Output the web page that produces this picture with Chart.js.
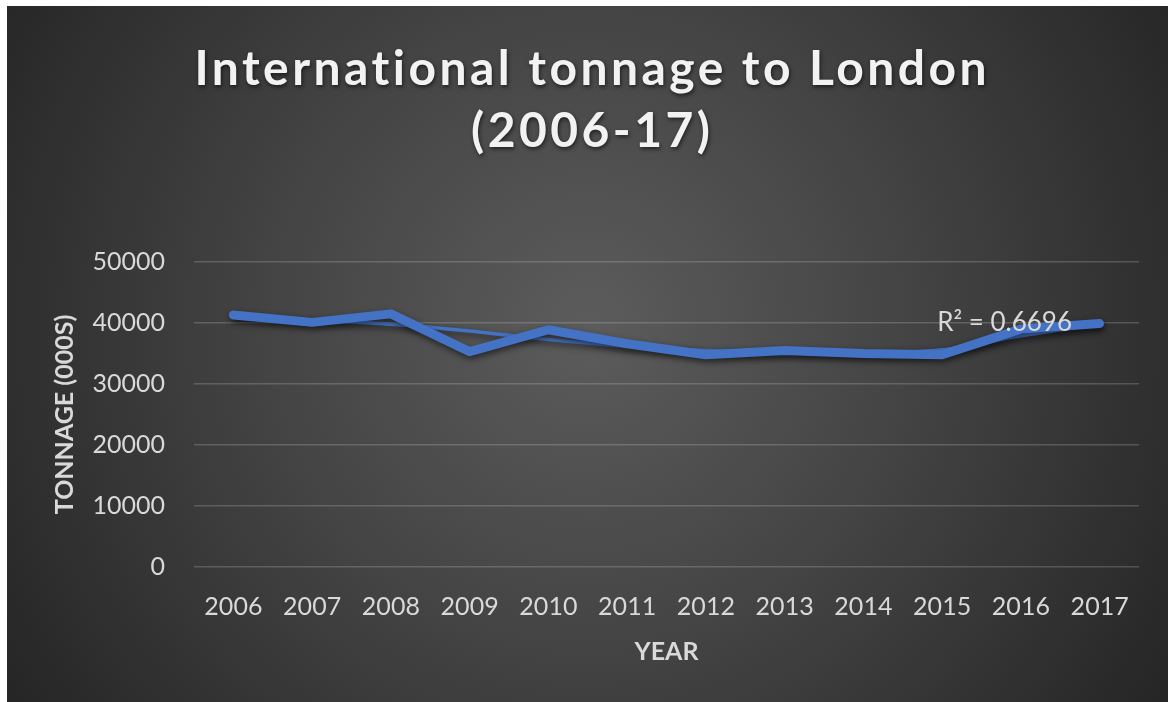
<!DOCTYPE html>
<html><head><meta charset="utf-8">
<script src="https://cdn.jsdelivr.net/npm/chart.js@4/dist/chart.umd.min.js"></script>
<style>
html,body{margin:0;padding:0;background:#fff;}
#wrap{position:absolute;left:7px;top:6px;width:1161px;height:696px;}
</style></head><body>
<div id="wrap"><canvas id="c" width="1161" height="696"></canvas></div>
<script>
const years = ['2006','2007','2008','2009','2010','2011','2012','2013','2014','2015','2016','2017'];
const tonnage = [41300, 40100, 41500, 35300, 38900, 36600, 34800, 35500, 35000, 34800, 39000, 39900];
const trendValues = [41200, 40500, 39800, 38700, 37300, 36200, 35500, 35200, 35100, 35600, 37900, 39800];
const yMin = 0, yMax = 50000, yStep = 10000;
const titleLines = ['International tonnage to London', '(2006-17)'];
const yTitle = 'TONNAGE (000S)';
const xTitle = 'YEAR';
const r2Label = 'R\u00B2 = 0.6696';

const FONT = 'Lato, "Open Sans", sans-serif';
const LIGHT = '#d9d9d9';
const BLUE = '#4472C4';

const decor = {
  id: 'decor',
  beforeDraw(chart) {
    const {ctx, width, height} = chart;
    ctx.save();
    const g = ctx.createRadialGradient(width/2, 320, 0, width/2, 320, 680);
    g.addColorStop(0, '#5c5c5c');
    g.addColorStop(0.45, '#454545');
    g.addColorStop(1, '#262626');
    ctx.fillStyle = g;
    ctx.fillRect(0, 0, width, height);
    ctx.restore();
  },
  beforeDatasetsDraw(chart) {
    const ctx = chart.ctx;
    ctx.save();
    ctx.shadowColor = 'rgba(0,0,0,0.55)';
    ctx.shadowBlur = 6;
    ctx.shadowOffsetY = 3;
    ctx.shadowOffsetX = 1;
  },
  afterDatasetsDraw(chart) {
    chart.ctx.restore();
  },
  afterDraw(chart) {
    const {ctx, width} = chart;
    // title
    ctx.save();
    ctx.font = 'bold 48px ' + FONT;
    ctx.fillStyle = '#f2f2f2';
    ctx.textAlign = 'left';
    ctx.textBaseline = 'alphabetic';
    ctx.shadowColor = 'rgba(0,0,0,0.6)';
    ctx.shadowBlur = 4;
    ctx.shadowOffsetX = 1;
    ctx.shadowOffsetY = 2;
    const line1 = titleLines[0];
    ctx.letterSpacing = '0px';
    const w0 = ctx.measureText(line1).width;
    const sp = Math.max(0, (793 - w0) / (line1.length - 1));
    ctx.letterSpacing = sp + 'px';
    const baselines = [79, 141];
    const cx = width / 2 + 3;
    titleLines.forEach((t, i) => {
      const w = ctx.measureText(t).width - sp;
      ctx.fillText(t, cx - w / 2, baselines[i]);
    });
    ctx.restore();
    // R² label
    const xs = chart.scales.x, ys = chart.scales.y;
    ctx.save();
    ctx.font = '26px ' + FONT;
    ctx.fillStyle = LIGHT;
    ctx.textAlign = 'left';
    ctx.textBaseline = 'middle';
    ctx.fillText(r2Label, xs.getPixelForValue(9) - 5, ys.getPixelForValue(40000));
    ctx.restore();
  }
};

new Chart(document.getElementById('c'), {
  type: 'line',
  data: {
    labels: years,
    datasets: [
      {
        label: 'Tonnage',
        data: tonnage,
        borderColor: BLUE,
        borderWidth: 9,
        pointRadius: 0,
        borderJoinStyle: 'round',
        borderCapStyle: 'round',
        tension: 0,
        order: 1
      },
      {
        label: 'Trend',
        data: trendValues,
        borderColor: BLUE,
        borderWidth: 3.5,
        pointRadius: 0,
        cubicInterpolationMode: 'monotone',
        borderCapStyle: 'round',
        order: 2
      }
    ]
  },
  options: {
    responsive: false,
    animation: false,
    devicePixelRatio: 1,
    layout: { padding: { left: 0, right: 29, top: 256, bottom: 0 } },
    plugins: { legend: { display: false }, title: { display: false }, tooltip: { enabled: false } },
    scales: {
      x: {
        offset: true,
        grid: { display: false, drawTicks: false },
        border: { display: false },
        ticks: { color: LIGHT, font: { family: FONT, size: 25 }, padding: 25, maxRotation: 0 },
        title: { display: true, text: xTitle, color: LIGHT, font: { family: FONT, size: 25, weight: 'bold' }, padding: { top: 0, bottom: 35 } },
        afterFit(s) { s.height = 135; }
      },
      y: {
        min: yMin, max: yMax,
        grid: { color: 'rgba(217,217,217,0.22)', lineWidth: 1.5, drawTicks: false },
        border: { display: false },
        ticks: { stepSize: yStep, color: LIGHT, font: { family: FONT, size: 25 }, padding: 29,
                 callback: (v) => String(v) },
        title: { display: true, text: yTitle, color: LIGHT, font: { family: FONT, size: 25, weight: 'bold' }, padding: { top: 43, bottom: 0 } },
        afterFit(s) { s.width = 187; }
      }
    }
  },
  plugins: [decor]
});
</script>
</body></html>
